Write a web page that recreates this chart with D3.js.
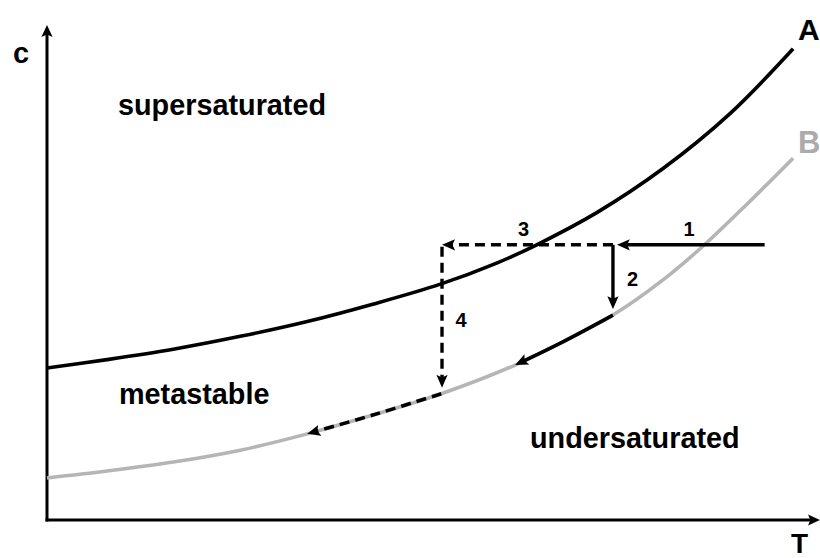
<!DOCTYPE html>
<html>
<head>
<meta charset="utf-8">
<script src="https://cdn.jsdelivr.net/npm/d3@7"></script>
<style>
  html, body { margin: 0; padding: 0; background: #fff; }
  svg { display: block; }
  text { font-family: "Liberation Sans", Arial, sans-serif; font-weight: bold; }
</style>
</head>
<body>
<svg id="chart" width="820" height="558"></svg>
<script>
// ---- data (T and c in arbitrary units 0..10) ----
const curveA_T = [0, 0.78, 1.64, 2.51, 3.38, 4.23, 5.10, 5.84, 6.36, 7.14, 8.00, 8.87, 9.69];
const curveA_c = [3.07, 3.24, 3.45, 3.71, 4.01, 4.36, 4.76, 5.19, 5.56, 6.21, 7.10, 8.21, 9.52];
const curveB_T = [0, 0.78, 1.64, 2.51, 3.38, 4.23, 5.12, 6.08, 6.70, 7.35, 8.00, 8.51, 9.09, 9.69];
const curveB_c = [0.85, 0.99, 1.17, 1.41, 1.74, 2.12, 2.55, 3.13, 3.60, 4.14, 4.85, 5.52, 6.38, 7.31];

const stepNames  = ["1", "2", "3", "4"];
const stepFromT  = [9.32, 7.35, 7.35, 5.13];
const stepFromC  = [5.56, 5.56, 5.56, 5.52];
const stepToT    = [7.40, 7.35, 5.13, 5.13];
const stepToC    = [5.56, 4.26, 5.56, 2.67];
const stepDashed = [false, false, true, true];

// growth along curve B: [start T, end T]
const growthFromT = [7.35, 5.12];
const growthToT   = [6.08, 3.38];
const growthDashed = [false, true];

const regionNames = ["supersaturated", "metastable", "undersaturated"];
const curveNames = ["A", "B"];
const axisNames = ["c", "T"];

// ---- layout ----
const svg = d3.select("#chart");
const x = d3.scaleLinear().domain([0, 10]).range([47, 817]);
const y = d3.scaleLinear().domain([0, 10]).range([520, 25]);

const black = "#000";
const grey = "#b5b5b5";

// arrow markers
const defs = svg.append("defs");
function marker(id, len, half, back) {
  defs.append("marker")
    .attr("id", id)
    .attr("markerUnits", "userSpaceOnUse")
    .attr("viewBox", `${-len} ${-len/2} ${len} ${len}`)
    .attr("refX", -back).attr("refY", 0)
    .attr("markerWidth", len).attr("markerHeight", len)
    .attr("orient", "auto")
    .append("path")
    .attr("d", `M0,0 L${-len},${-half} L${-len*0.8},0 L${-len},${half} Z`)
    .attr("fill", black);
}
marker("arr", 13, 5.6, 8);
marker("axarr", 12, 5.6, 8);

// shorten polyline end by d px
function shorten(pts, d) {
  const n = pts.length;
  const [x1, y1] = pts[n - 2], [x2, y2] = pts[n - 1];
  const L = Math.hypot(x2 - x1, y2 - y1);
  const out = pts.slice();
  out[n - 1] = [x2 - (x2 - x1) / L * d, y2 - (y2 - y1) / L * d];
  return out;
}

// axes
const x0 = x(0), y0 = y(0);
svg.append("path")
  .attr("d", d3.line()(shorten([[x0, y0 + 1.5], [x0, y.range()[1]]], 8)))
  .attr("stroke", black).attr("stroke-width", 3).attr("fill", "none")
  .attr("marker-end", "url(#axarr)");
svg.append("path")
  .attr("d", d3.line()(shorten([[x0 - 1.5, y0], [x.range()[1] + 3, y0]], 8)))
  .attr("stroke", black).attr("stroke-width", 3).attr("fill", "none")
  .attr("marker-end", "url(#axarr)");

// curves
const lineGen = d3.line().x(d => x(d[0])).y(d => y(d[1])).curve(d3.curveCatmullRom.alpha(0.5));
const ptsA = curveA_T.map((t, i) => [t, curveA_c[i]]);
const ptsB = curveB_T.map((t, i) => [t, curveB_c[i]]);

svg.append("path").attr("d", lineGen(ptsB))
  .attr("fill", "none").attr("stroke", grey).attr("stroke-width", 3.6);
svg.append("path").attr("d", lineGen(ptsA))
  .attr("fill", "none").attr("stroke", black).attr("stroke-width", 3.6);

// steps
stepNames.forEach((s, i) => {
  const pts = [[x(stepFromT[i]), y(stepFromC[i])], [x(stepToT[i]), y(stepToC[i])]];
  svg.append("path")
    .attr("d", d3.line()(shorten(pts, 8)))
    .attr("fill", "none").attr("stroke", black).attr("stroke-width", 3.4)
    .attr("stroke-dasharray", stepDashed[i] ? "10,6" : null)
    .attr("marker-end", "url(#arr)");
});

// growth along B
growthFromT.forEach((t0, i) => {
  const t1 = growthToT[i];
  const pts = ptsB.filter(p => p[0] <= t0 + 1e-9 && p[0] >= t1 - 1e-9)
    .sort((a, b) => b[0] - a[0])
    .map(p => [x(p[0]), y(p[1])]);
  svg.append("path")
    .attr("d", d3.line().curve(d3.curveCatmullRom)(shorten(pts, 8)))
    .attr("fill", "none").attr("stroke", black).attr("stroke-width", 3.6)
    .attr("stroke-dasharray", growthDashed[i] ? "10,6" : null)
    .attr("marker-end", "url(#arr)");
});

// step labels
const stepLabelPos = [[689, 236], [632.5, 286], [523.5, 236], [461, 327]];
stepNames.forEach((s, i) => {
  svg.append("text").text(s)
    .attr("x", stepLabelPos[i][0]).attr("y", stepLabelPos[i][1])
    .attr("text-anchor", "middle").attr("font-size", 20).attr("fill", black);
});

// region labels
const regionPos = [[118, 115], [119, 404], [530, 448]];
regionNames.forEach((r, i) => {
  svg.append("text").text(r)
    .attr("x", regionPos[i][0]).attr("y", regionPos[i][1])
    .attr("font-size", 28.8).attr("fill", black);
});

// curve names
svg.append("text").text(curveNames[0]).attr("x", 798).attr("y", 40)
  .attr("font-size", 30).attr("fill", black);
svg.append("text").text(curveNames[1]).attr("x", 798).attr("y", 153)
  .attr("font-size", 31).attr("fill", "#ababab");

// axis names
svg.append("text").text(axisNames[0]).attr("x", 13).attr("y", 63)
  .attr("font-size", 29).attr("fill", black);
svg.append("text").text(axisNames[1]).attr("x", 791).attr("y", 553)
  .attr("font-size", 28).attr("fill", black);
</script>
</body>
</html>
